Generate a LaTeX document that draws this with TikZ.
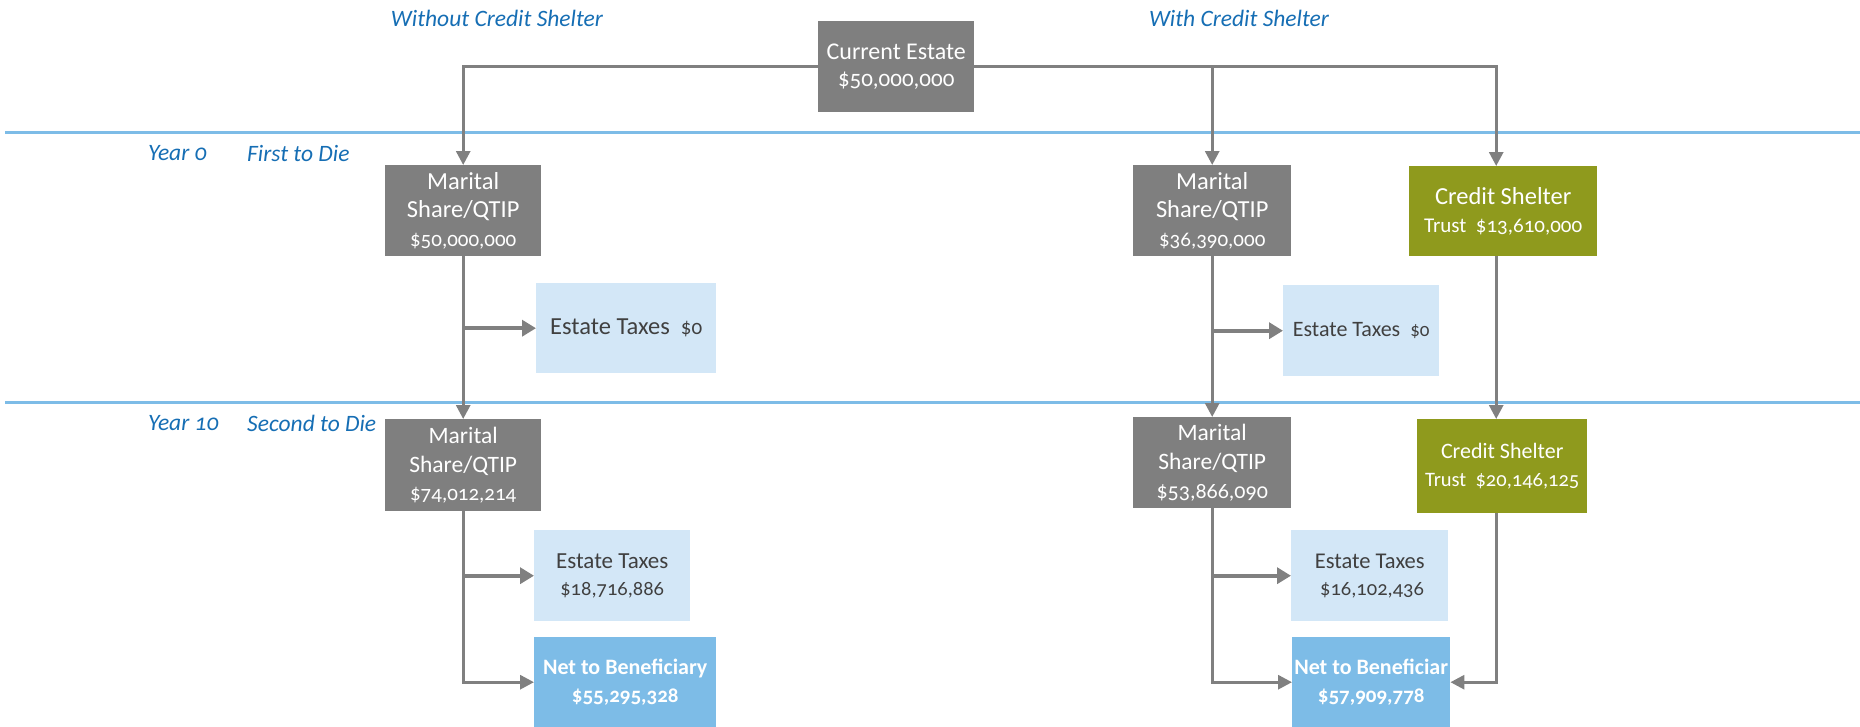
\documentclass[tikz,border=0pt]{standalone}
\usepackage{fontspec}
\setmainfont{Carlito}[Numbers=OldStyle]
\usetikzlibrary{arrows.meta}
\definecolor{boxgray}{HTML}{7F7F7F}
\definecolor{linegray}{HTML}{808080}
\definecolor{lightblue}{HTML}{D3E7F7}
\definecolor{netblue}{HTML}{7DBCE7}
\definecolor{sepblue}{HTML}{7DBCE7}
\definecolor{olive}{HTML}{8F9A1D}
\definecolor{hdrblue}{RGB}{22,110,180}
\definecolor{taxtext}{HTML}{404040}
\tikzset{
  basebox/.style={rectangle, inner sep=0pt, anchor=north west, align=center},
  graybox/.style={basebox, fill=boxgray, text=white},
  olivebox/.style={basebox, fill=olive, text=white},
  taxbox/.style={basebox, fill=lightblue, text=taxtext},
  netbox/.style={basebox, fill=netblue, text=white, font=\bfseries\fontsize{22}{28}\selectfont},
  hdr/.style={text=hdrblue, font=\itshape\fontsize{23.5}{26}\selectfont, inner sep=0pt},
  conn/.style={draw=linegray, line width=3pt, -{Triangle[length=14pt,width=14pt]}},
  branch/.style={draw=linegray, line width=4pt, -{Triangle[length=14pt,width=16pt]}},
  sepline/.style={draw=sepblue, line width=3pt}
}
\begin{document}
\begin{tikzpicture}[x=1pt,y=-1pt]
\useasboundingbox (0,0) rectangle (1860,726);
% separators
\draw[sepline] (5,132) -- (1860,132);
\draw[sepline] (5,402) -- (1860,402);
% headers
\node[hdr] (hdr1) at (497,18) {Without Credit Shelter};
\node[hdr] (hdr2) at (1239,18) {With Credit Shelter};
\node[hdr, anchor=west] (y0) at (148,153) {Year 0};
\node[hdr, anchor=west] (fd) at (247,153) {First to Die};
\node[hdr, anchor=west] (y10) at (148,423) {Year 10};
\node[hdr, anchor=west] (sd) at (247,423) {Second to Die};
% boxes
\node[graybox, minimum width=156pt, minimum height=91pt, font=\fontsize{24}{27}\selectfont] (ce) at (818,21)
  {Current Estate\\{\fontsize{23}{27}\selectfont \$50,000,000}};
\node[graybox, minimum width=156pt, minimum height=91pt, font=\fontsize{24.5}{28.5}\selectfont] (mar1) at (385,165)
  {Marital\\Share/QTIP\\{\fontsize{21}{28.5}\selectfont \$50,000,000}};
\node[taxbox, minimum width=180pt, minimum height=90pt, font=\fontsize{24.5}{28}\selectfont] (et1) at (536,283)
  {Estate Taxes\ \ {\fontsize{21}{28}\selectfont \$0}};
\node[graybox, minimum width=156pt, minimum height=92pt, font=\fontsize{23.5}{28.5}\selectfont] (mar3) at (385,419)
  {Marital\\Share/QTIP\\{\fontsize{21}{28.5}\selectfont \$74,012,214}};
\node[taxbox, minimum width=156pt, minimum height=91pt, font=\fontsize{23}{27}\selectfont] (et2) at (534,530)
  {Estate Taxes\\{\fontsize{20.5}{27}\selectfont \$18,716,886}};
\node[netbox, minimum width=182pt, minimum height=90pt] (net1) at (534,637)
  {Net to Beneficiary\\{\fontsize{21}{28}\selectfont \$55,295,328}};
\node[graybox, minimum width=158pt, minimum height=91pt, font=\fontsize{24.5}{28.5}\selectfont] (mar2) at (1133,165)
  {Marital\\Share/QTIP\\{\fontsize{21}{28.5}\selectfont \$36,390,000}};
\node[olivebox, minimum width=188pt, minimum height=90pt, font=\fontsize{24.5}{28}\selectfont] (cs1) at (1409,166)
  {Credit Shelter\\{\fontsize{21}{28}\selectfont Trust\ \ \$13,610,000}};
\node[taxbox, minimum width=156pt, minimum height=91pt, font=\fontsize{22}{28}\selectfont] (et3) at (1283,285)
  {Estate Taxes\ \ {\fontsize{19}{28}\selectfont \$0}};
\node[graybox, minimum width=158pt, minimum height=91pt, font=\fontsize{23.5}{29}\selectfont] (mar4) at (1133,417)
  {Marital\\Share/QTIP\\{\fontsize{22}{29}\selectfont \$53,866,090}};
\node[olivebox, minimum width=170pt, minimum height=94pt, font=\fontsize{22}{28}\selectfont] (cs2) at (1417,419)
  {Credit Shelter\\{\fontsize{20.5}{28}\selectfont Trust\ \ \$20,146,125}};
\node[taxbox, minimum width=157pt, minimum height=91pt, font=\fontsize{22.5}{27}\selectfont] (et4) at (1291,530)
  {Estate Taxes\\{\fontsize{20.5}{27}\selectfont \ \$16,102,436}};
\node[netbox, minimum width=158pt, minimum height=90pt] (net2) at (1292,637)
  {Net to Beneficiar\\{\fontsize{21}{28}\selectfont \$57,909,778}};
% connectors
\draw[conn] (ce.west) -| (mar1.north);
\draw[conn] (ce.east) -| ([xshift=-7pt]cs1.north);
\draw[conn] (ce.east -| mar2.north) -- (mar2.north);
\draw[conn] (mar1.south) -- (mar3.north);
\draw[branch] (mar1.south |- et1.west) -- (et1.west);
\draw[conn] (mar3.south) |- (net1.west);
\draw[branch] (mar3.south |- et2.west) -- (et2.west);
\draw[conn] (mar2.south) -- (mar4.north);
\draw[branch] (mar2.south |- et3.west) -- (et3.west);
\draw[conn] (mar4.south) |- (net2.west);
\draw[branch] (mar4.south |- et4.west) -- (et4.west);
\draw[conn] ([xshift=-7pt]cs1.south) -- ([xshift=-7pt]cs1.south |- cs2.north);
\draw[conn] ([xshift=-6pt]cs2.south) |- (net2.east);
\end{tikzpicture}
\end{document}
